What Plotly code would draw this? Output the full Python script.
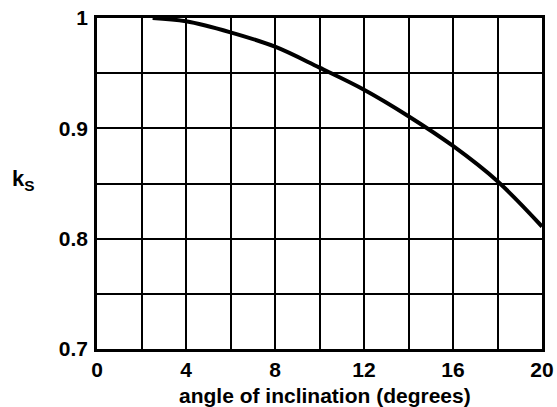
import plotly.graph_objects as go

# Data
angle_deg = [2.5, 4, 6, 8, 10, 12, 14, 16, 18, 20]
ks_values = [1.0, 0.997, 0.987, 0.974, 0.955, 0.935, 0.911, 0.884, 0.852, 0.811]

x_ticks = [0, 4, 8, 12, 16, 20]
x_labels = ["0", "4", "8", "12", "16", "20"]
x_minor_grid = [2, 6, 10, 14, 18]
y_ticks = [0.7, 0.8, 0.9, 1.0]
y_labels = ["0.7", "0.8", "0.9", "1"]
y_minor_grid = [0.75, 0.85, 0.95]

FONT = "Liberation Sans"

fig = go.Figure()
fig.add_trace(go.Scatter(
    x=angle_deg, y=ks_values, mode="lines",
    line=dict(color="black", width=4, shape="spline"),
    showlegend=False, hoverinfo="skip",
))

grid_style = dict(showgrid=True, gridcolor="black", gridwidth=1.5, ticks="")

fig.update_layout(
    width=557, height=407,
    margin=dict(l=97, r=15, t=18, b=58),
    paper_bgcolor="white", plot_bgcolor="white",
    font=dict(family=FONT, size=21, color="black", weight="bold"),
    xaxis=dict(
        range=[0, 20], tickvals=x_ticks, ticktext=x_labels,
        showgrid=True, gridcolor="black", gridwidth=1.5,
        minor=dict(tickvals=x_minor_grid, **grid_style),
        showline=True, linecolor="black", linewidth=2.5, mirror=True,
        ticks="", zeroline=False, ticklabelstandoff=0, automargin=False,
        ticklabeloverflow="allow",
    ),
    yaxis=dict(
        range=[0.7, 1.0], tickvals=y_ticks, ticktext=y_labels,
        showgrid=True, gridcolor="black", gridwidth=1.5,
        minor=dict(tickvals=y_minor_grid, **grid_style),
        showline=True, linecolor="black", linewidth=2.5, mirror=True,
        ticks="", zeroline=False, ticklabelstandoff=2, automargin=False,
        ticklabeloverflow="allow",
    ),
    annotations=[
        dict(text="angle of inclination (degrees)", xref="paper", yref="paper",
             x=0.512, y=0, xanchor="center", yanchor="top", yshift=-33,
             showarrow=False, font=dict(family=FONT, size=21, weight="bold")),
        dict(text="k<sub>S</sub>", xref="paper", yref="paper",
             x=0, y=0.51, xanchor="right", yanchor="middle", xshift=-60,
             showarrow=False, font=dict(family=FONT, size=22, weight="bold")),
    ],
)

# remove the default page margin so the figure fills the window exactly
fig.write_html("out.html", config={"displayModeBar": False},
               post_script="document.body.style.margin='0';")
